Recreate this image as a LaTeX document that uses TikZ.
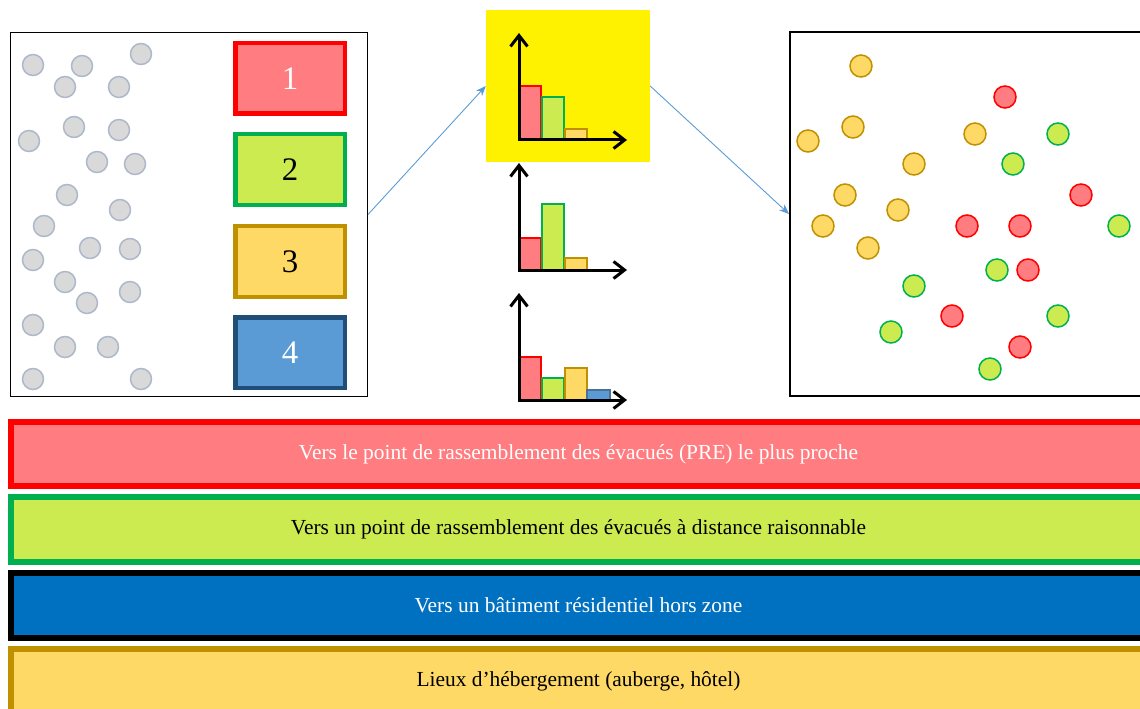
\documentclass[tikz,border=0pt]{standalone}
\usepackage{fontspec}
\setmainfont{Liberation Serif}
\usetikzlibrary{arrows.meta}
\definecolor{redfill}{HTML}{FF7C80}
\definecolor{redline}{HTML}{FF0000}
\definecolor{greenfill}{HTML}{CCEB50}
\definecolor{greenline}{HTML}{00B050}
\definecolor{goldfill}{HTML}{FFD966}
\definecolor{goldline}{HTML}{BF9000}
\definecolor{bluefill}{HTML}{5B9BD5}
\definecolor{blueline}{HTML}{1F4E79}
\definecolor{deepblue}{HTML}{0070C0}
\definecolor{dotgray}{HTML}{D9D9D9}
\definecolor{dotedge}{HTML}{ADB9CA}
\definecolor{flowblue}{HTML}{5B9BD5}
\begin{document}
\begin{tikzpicture}[x=1bp,y=-1bp,
    bigbox/.style={draw=black,line width=1.5bp,inner sep=0pt,minimum width=356.5bp,minimum height=363.5bp},
    numbox/.style={line width=4.5bp,inner sep=0pt,minimum width=109.5bp,minimum height=70.5bp,font=\fontsize{33}{36}\selectfont},
    band/.style={line width=6bp,inner sep=0pt,minimum width=1135bp,minimum height=64.5bp,font=\fontsize{21.5}{24}\selectfont},
    gdot/.style={circle,fill=dotgray,draw=dotedge,line width=1.5bp,inner sep=0pt,minimum size=21bp},
    rdot/.style={circle,fill=redfill,draw=redline,line width=1.5bp,inner sep=0pt,minimum size=22bp},
    vdot/.style={circle,fill=greenfill,draw=greenline,line width=1.5bp,inner sep=0pt,minimum size=22bp},
    odot/.style={circle,fill=goldfill,draw=goldline,line width=1.5bp,inner sep=0pt,minimum size=22bp},
    axis/.style={line width=3bp,{Straight Barb[length=11bp,width=17bp]}-{Straight Barb[length=11bp,width=17bp]}},
    bar/.style={line width=1.5bp},
    flow/.style={flowblue,line width=0.9bp,-{Stealth[length=10bp,width=8bp]}}]
    \useasboundingbox (0,0) rectangle (1140,709);

    % left box: population and the four choices
    \node [bigbox] (lbox) at (189,214.5) {};
    \foreach \x/\y [count=\i] in {33/65,82/66,141/54,65/87,119/87,74/127,119/130,29/141,97/162,135/164,
        67/195,120/210,44/226,90/248,130/249,33/260,65/282,87/303,130/292,33/325,65/347,108/347,33/379,141/379}
        \node [gdot] (g\i) at (\x,\y) {};
    \node [numbox,draw=redline,fill=redfill,text=white] (c1) at (290,78.5) {1};
    \node [numbox,draw=greenline,fill=greenfill] (c2) at (290,169.5) {2};
    \node [numbox,draw=goldline,fill=goldfill] (c3) at (290,261.5) {3};
    \node [numbox,draw=blueline,fill=bluefill,text=white] (c4) at (290,352.5) {4};

    % histograms
    \node [fill=yellow,inner sep=0pt,minimum width=164bp,minimum height=152bp] (ybox) at (568,86) {};
    \foreach \o in {140,270,400}{
        \coordinate (o\o) at (519,\o);
        \coordinate (t\o) at (519,\o-107);
        \coordinate (e\o) at (627,\o);
    }
    \draw [bar,draw=redline,fill=redfill] (520,140) rectangle (541,86);
    \draw [bar,draw=greenline,fill=greenfill] (542,140) rectangle (564,97);
    \draw [bar,draw=goldline,fill=goldfill] (565,140) rectangle (587,129);
    \draw [bar,draw=redline,fill=redfill] (520,270) rectangle (541,238);
    \draw [bar,draw=greenline,fill=greenfill] (542,270) rectangle (564,204);
    \draw [bar,draw=goldline,fill=goldfill] (565,270) rectangle (587,258);
    \draw [bar,draw=redline,fill=redfill] (520,400) rectangle (541,357);
    \draw [bar,draw=greenline,fill=greenfill] (542,400) rectangle (564,378);
    \draw [bar,draw=goldline,fill=goldfill] (565,400) rectangle (587,368);
    \draw [bar,draw=blueline!80,fill=bluefill] (587,400) rectangle (610,390);
    \foreach \o in {140,270,400}
        \draw [axis] (t\o) -- (o\o) -- (e\o);

    % right box: chosen destinations
    \node [bigbox] (rbox) at (968,214) {};
    \foreach \x/\y [count=\i] in {861/66,853/127,808/141,975/134,914/164,845/195,898/210,823/226,868/248}
        \node [odot] (o\i) at (\x,\y) {};
    \foreach \x/\y [count=\i] in {1005/97,1081/195,967/226,1020/226,1028/270,952/316,1020/347}
        \node [rdot] (r\i) at (\x,\y) {};
    \foreach \x/\y [count=\i] in {1058/134,1013/164,1119/226,997/270,914/286,1058/316,891/332,990/369}
        \node [vdot] (v\i) at (\x,\y) {};

    \draw [flow] (lbox.east) -- (ybox.west);
    \draw [flow] (ybox.east) -- (rbox.west);

    % legend bands
    \node [band,draw=redline,fill=redfill,text=white] (b1) at (578.5,454) {Vers le point de rassemblement des évacués (PRE) le plus proche};
    \node [band,draw=greenline,fill=greenfill] (b2) at (578.5,529.5) {Vers un point de rassemblement des évacués à distance raisonnable};
    \node [band,draw=black,fill=deepblue,text=white] (b3) at (578.5,605.5) {Vers un bâtiment résidentiel hors zone};
    \node [band,draw=goldline,fill=goldfill] (b4) at (578.5,681.5) {Lieux d’hébergement (auberge, hôtel)};
\end{tikzpicture}
\end{document}
